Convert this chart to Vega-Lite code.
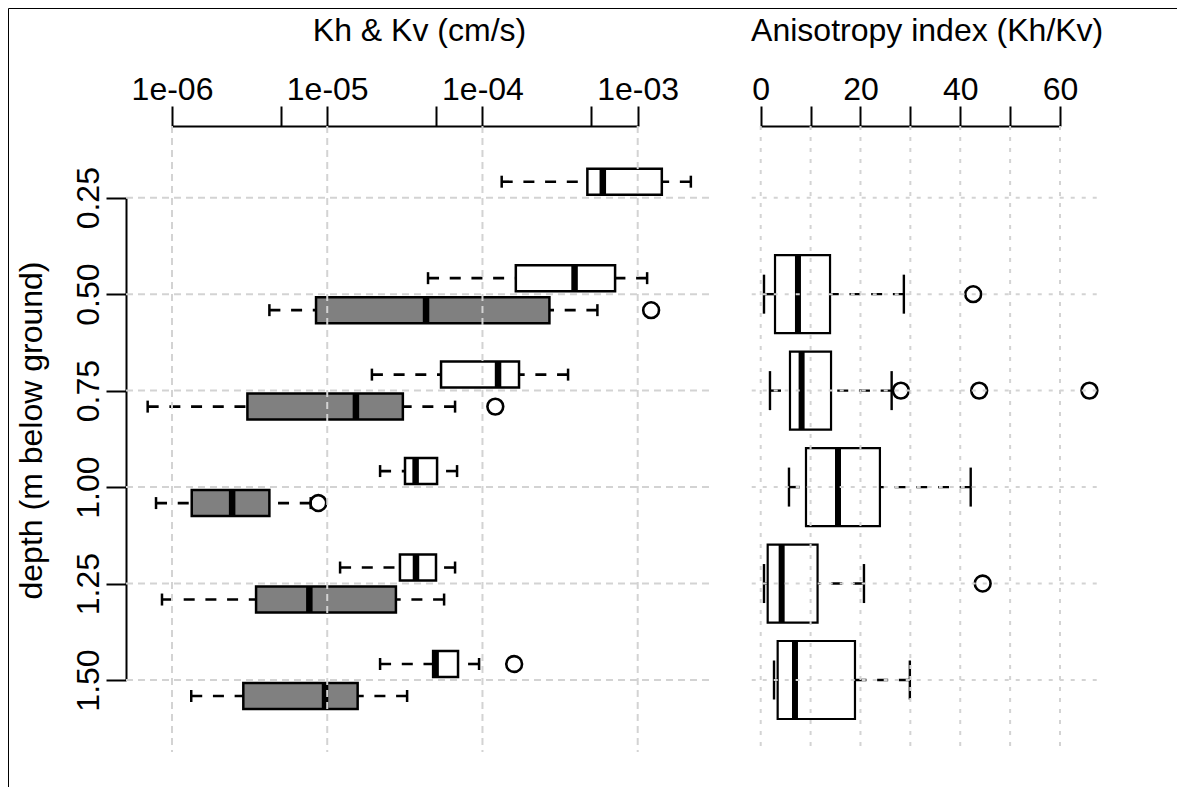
{
  "$schema": "https://vega.github.io/schema/vega-lite/v6.json",
  "width": 1170,
  "height": 780,
  "autosize": {"type": "none"},
  "padding": {"left": 8, "top": 8, "right": 0, "bottom": 0},
  "background": "white",
  "config": {"view": {"stroke": "#000000", "strokeWidth": 1}, "font": "Liberation Sans", "scale": {"continuousPadding": 0}},
  "datasets": {
    "k": [
      {"depth": 0.25, "k": "Kh", "lo": 1.33e-4, "q1": 4.74e-4, "med": 5.96e-4, "q3": 1.43e-3, "hi": 2.20e-3},
      {"depth": 0.50, "k": "Kh", "lo": 4.46e-5, "q1": 1.64e-4, "med": 3.92e-4, "q3": 7.15e-4, "hi": 1.15e-3},
      {"depth": 0.50, "k": "Kv", "lo": 4.24e-6, "q1": 8.47e-6, "med": 4.33e-5, "q3": 2.70e-4, "hi": 5.50e-4},
      {"depth": 0.75, "k": "Kh", "lo": 1.94e-5, "q1": 5.41e-5, "med": 1.26e-4, "q3": 1.72e-4, "hi": 3.56e-4},
      {"depth": 0.75, "k": "Kv", "lo": 6.97e-7, "q1": 3.06e-6, "med": 1.53e-5, "q3": 3.07e-5, "hi": 6.66e-5},
      {"depth": 1.00, "k": "Kh", "lo": 2.19e-5, "q1": 3.17e-5, "med": 3.71e-5, "q3": 5.10e-5, "hi": 6.86e-5},
      {"depth": 1.00, "k": "Kv", "lo": 7.89e-7, "q1": 1.34e-6, "med": 2.44e-6, "q3": 4.24e-6, "hi": 7.83e-6},
      {"depth": 1.25, "k": "Kh", "lo": 1.21e-5, "q1": 2.94e-5, "med": 3.73e-5, "q3": 5.02e-5, "hi": 6.66e-5},
      {"depth": 1.25, "k": "Kv", "lo": 8.62e-7, "q1": 3.48e-6, "med": 7.67e-6, "q3": 2.77e-5, "hi": 5.66e-5},
      {"depth": 1.50, "k": "Kh", "lo": 2.19e-5, "q1": 4.81e-5, "med": 4.99e-5, "q3": 6.96e-5, "hi": 9.51e-5},
      {"depth": 1.50, "k": "Kv", "lo": 1.33e-6, "q1": 2.88e-6, "med": 9.68e-6, "q3": 1.57e-5, "hi": 3.27e-5}
    ],
    "kout": [
      {"depth": 0.50, "k": "Kv", "v": 1.22e-3},
      {"depth": 0.75, "k": "Kv", "v": 1.21e-4},
      {"depth": 1.00, "k": "Kv", "v": 8.76e-6},
      {"depth": 1.50, "k": "Kh", "v": 1.60e-4}
    ],
    "ani": [
      {"depth": 0.50, "lo": 0.66, "q1": 2.87, "med": 7.47, "q3": 13.9, "hi": 28.7},
      {"depth": 0.75, "lo": 1.86, "q1": 5.87, "med": 8.2, "q3": 14.1, "hi": 26.25},
      {"depth": 1.00, "lo": 5.67, "q1": 9.08, "med": 15.5, "q3": 23.9, "hi": 42.1},
      {"depth": 1.25, "lo": 0.66, "q1": 1.4, "med": 4.2, "q3": 11.4, "hi": 20.7},
      {"depth": 1.50, "lo": 2.67, "q1": 3.4, "med": 6.87, "q3": 18.9, "hi": 29.9}
    ],
    "aniout": [
      {"depth": 0.50, "v": 42.6},
      {"depth": 0.75, "v": 28.1},
      {"depth": 0.75, "v": 43.8},
      {"depth": 0.75, "v": 65.9},
      {"depth": 1.25, "v": 44.5}
    ],
    "depths": [{"depth": 0.25}, {"depth": 0.50}, {"depth": 0.75}, {"depth": 1.00}, {"depth": 1.25}, {"depth": 1.50}],
    "kgrid": [{"kv": 1e-6}, {"kv": 1e-5}, {"kv": 1e-4}, {"kv": 1e-3}],
    "agrid": [{"av": 0}, {"av": 10}, {"av": 20}, {"av": 30}, {"av": 40}, {"av": 50}, {"av": 60}]
  },
  "layer": [
    {
      "layer": [
        {
          "data": {"name": "k"},
          "transform": [{"filter": "datum.k === 'Kh'"}],
          "layer": [
            {
              "mark": {"type": "rule", "color": "#000000", "strokeWidth": 2.6, "strokeDash": [11, 10.7], "opacity": 1, "yOffset": -16},
              "encoding": {
                "x": {"field": "lo", "type": "quantitative",
                  "scale": {"type": "log", "domain": [1e-6, 1e-3], "range": [164, 629.7], "nice": false, "padding": 0},
                  "axis": {"orient": "top", "offset": -118, "values": [1e-6, 5e-6, 1e-5, 5e-5, 1e-4, 5e-4, 1e-3],
                    "labelExpr": "abs(log(datum.value)/LN10 - round(log(datum.value)/LN10)) < 0.01 ? '1e-0' + (-round(log(datum.value)/LN10)) : ''",
                    "grid": false, "domainColor": "#000000", "domainWidth": 2, "tickColor": "#000000", "tickWidth": 2, "tickSize": 20,
                    "labelFont": "Liberation Sans", "labelFontSize": 32, "labelColor": "#000000", "labelPadding": 7,
                    "labelBaseline": "alphabetic", "labelAlign": "center", "labelOverlap": false, "labelFlush": false, "labelBound": false,
                    "title": "Kh & Kv (cm/s)", "titleFont": "Liberation Sans", "titleFontSize": 32, "titleFontWeight": "normal",
                    "titleColor": "#000000", "titleX": 411, "titleY": -86, "titleAlign": "center", "titleBaseline": "alphabetic", "titleAngle": 0}},
                "x2": {"field": "q1"},
                "y": {"field": "depth", "type": "quantitative",
                  "scale": {"domain": [0.25, 1.5], "range": [189.7, 672], "nice": false, "zero": false, "padding": 0},
                  "axis": {"orient": "left", "offset": -118, "values": [0.25, 0.5, 0.75, 1.0, 1.25, 1.5], "format": ".2f",
                    "grid": false, "domainColor": "#000000", "domainWidth": 2, "tickColor": "#000000", "tickWidth": 2, "tickSize": 20,
                    "labelFont": "Liberation Sans", "labelFontSize": 32, "labelColor": "#000000", "labelPadding": 8,
                    "labelAngle": -90, "labelAlign": "center", "labelBaseline": "alphabetic", "labelOverlap": false, "labelFlush": false, "labelBound": false,
                    "title": "depth (m below ground)", "titleFont": "Liberation Sans", "titleFontSize": 32, "titleFontWeight": "normal",
                    "titleColor": "#000000", "titleAngle": -90, "titleX": -85, "titleY": 422, "titleAlign": "center", "titleBaseline": "alphabetic"}}
              }
            },
            {
              "mark": {"type": "rule", "color": "#000000", "strokeWidth": 2.6, "strokeDash": [11, 10.7], "opacity": 1, "yOffset": -16},
              "encoding": {
                "x": {"field": "hi", "type": "quantitative", "scale": {"type": "log", "domain": [1e-6, 1e-3], "range": [164, 629.7], "nice": false, "padding": 0}},
                "x2": {"field": "q3"},
                "y": {"field": "depth", "type": "quantitative", "scale": {"domain": [0.25, 1.5], "range": [189.7, 672], "nice": false, "zero": false, "padding": 0}}
              }
            },
            {
              "mark": {"type": "tick", "orient": "vertical", "color": "#000000", "size": 12, "thickness": 2.5, "opacity": 1, "yOffset": -16},
              "encoding": {
                "x": {"field": "lo", "type": "quantitative", "scale": {"type": "log", "domain": [1e-6, 1e-3], "range": [164, 629.7], "nice": false, "padding": 0}},
                "y": {"field": "depth", "type": "quantitative", "scale": {"domain": [0.25, 1.5], "range": [189.7, 672], "nice": false, "zero": false, "padding": 0}}
              }
            },
            {
              "mark": {"type": "tick", "orient": "vertical", "color": "#000000", "size": 12, "thickness": 2.5, "opacity": 1, "yOffset": -16},
              "encoding": {
                "x": {"field": "hi", "type": "quantitative", "scale": {"type": "log", "domain": [1e-6, 1e-3], "range": [164, 629.7], "nice": false, "padding": 0}},
                "y": {"field": "depth", "type": "quantitative", "scale": {"domain": [0.25, 1.5], "range": [189.7, 672], "nice": false, "zero": false, "padding": 0}}
              }
            },
            {
              "mark": {"type": "bar", "orient": "horizontal", "size": 26, "fill": "#ffffff", "stroke": "#000000", "strokeWidth": 2.5, "opacity": 1, "yOffset": -16},
              "encoding": {
                "x": {"field": "q1", "type": "quantitative", "scale": {"type": "log", "domain": [1e-6, 1e-3], "range": [164, 629.7], "nice": false, "padding": 0}},
                "x2": {"field": "q3"},
                "y": {"field": "depth", "type": "quantitative", "scale": {"domain": [0.25, 1.5], "range": [189.7, 672], "nice": false, "zero": false, "padding": 0}}
              }
            },
            {
              "mark": {"type": "tick", "orient": "vertical", "color": "#000000", "size": 26, "thickness": 6.5, "opacity": 1, "yOffset": -16},
              "encoding": {
                "x": {"field": "med", "type": "quantitative", "scale": {"type": "log", "domain": [1e-6, 1e-3], "range": [164, 629.7], "nice": false, "padding": 0}},
                "y": {"field": "depth", "type": "quantitative", "scale": {"domain": [0.25, 1.5], "range": [189.7, 672], "nice": false, "zero": false, "padding": 0}}
              }
            }
          ]
        },
        {
          "data": {"name": "k"},
          "transform": [{"filter": "datum.k === 'Kv'"}],
          "layer": [
            {
              "mark": {"type": "rule", "color": "#000000", "strokeWidth": 2.6, "strokeDash": [11, 10.7], "opacity": 1, "yOffset": 16},
              "encoding": {
                "x": {"field": "lo", "type": "quantitative", "scale": {"type": "log", "domain": [1e-6, 1e-3], "range": [164, 629.7], "nice": false, "padding": 0}},
                "x2": {"field": "q1"},
                "y": {"field": "depth", "type": "quantitative", "scale": {"domain": [0.25, 1.5], "range": [189.7, 672], "nice": false, "zero": false, "padding": 0}}
              }
            },
            {
              "mark": {"type": "rule", "color": "#000000", "strokeWidth": 2.6, "strokeDash": [11, 10.7], "opacity": 1, "yOffset": 16},
              "encoding": {
                "x": {"field": "hi", "type": "quantitative", "scale": {"type": "log", "domain": [1e-6, 1e-3], "range": [164, 629.7], "nice": false, "padding": 0}},
                "x2": {"field": "q3"},
                "y": {"field": "depth", "type": "quantitative", "scale": {"domain": [0.25, 1.5], "range": [189.7, 672], "nice": false, "zero": false, "padding": 0}}
              }
            },
            {
              "mark": {"type": "tick", "orient": "vertical", "color": "#000000", "size": 12, "thickness": 2.5, "opacity": 1, "yOffset": 16},
              "encoding": {
                "x": {"field": "lo", "type": "quantitative", "scale": {"type": "log", "domain": [1e-6, 1e-3], "range": [164, 629.7], "nice": false, "padding": 0}},
                "y": {"field": "depth", "type": "quantitative", "scale": {"domain": [0.25, 1.5], "range": [189.7, 672], "nice": false, "zero": false, "padding": 0}}
              }
            },
            {
              "mark": {"type": "tick", "orient": "vertical", "color": "#000000", "size": 12, "thickness": 2.5, "opacity": 1, "yOffset": 16},
              "encoding": {
                "x": {"field": "hi", "type": "quantitative", "scale": {"type": "log", "domain": [1e-6, 1e-3], "range": [164, 629.7], "nice": false, "padding": 0}},
                "y": {"field": "depth", "type": "quantitative", "scale": {"domain": [0.25, 1.5], "range": [189.7, 672], "nice": false, "zero": false, "padding": 0}}
              }
            },
            {
              "mark": {"type": "bar", "orient": "horizontal", "size": 26, "fill": "#808080", "stroke": "#000000", "strokeWidth": 2.5, "opacity": 1, "yOffset": 16},
              "encoding": {
                "x": {"field": "q1", "type": "quantitative", "scale": {"type": "log", "domain": [1e-6, 1e-3], "range": [164, 629.7], "nice": false, "padding": 0}},
                "x2": {"field": "q3"},
                "y": {"field": "depth", "type": "quantitative", "scale": {"domain": [0.25, 1.5], "range": [189.7, 672], "nice": false, "zero": false, "padding": 0}}
              }
            },
            {
              "mark": {"type": "tick", "orient": "vertical", "color": "#000000", "size": 26, "thickness": 6.5, "opacity": 1, "yOffset": 16},
              "encoding": {
                "x": {"field": "med", "type": "quantitative", "scale": {"type": "log", "domain": [1e-6, 1e-3], "range": [164, 629.7], "nice": false, "padding": 0}},
                "y": {"field": "depth", "type": "quantitative", "scale": {"domain": [0.25, 1.5], "range": [189.7, 672], "nice": false, "zero": false, "padding": 0}}
              }
            }
          ]
        },
        {
          "data": {"name": "kout"},
          "transform": [{"filter": "datum.k === 'Kh'"}],
          "mark": {"type": "point", "shape": "circle", "filled": false, "stroke": "#000000", "strokeWidth": 2.6, "size": 250, "opacity": 1, "yOffset": -16},
          "encoding": {
            "x": {"field": "v", "type": "quantitative", "scale": {"type": "log", "domain": [1e-6, 1e-3], "range": [164, 629.7], "nice": false, "padding": 0}},
            "y": {"field": "depth", "type": "quantitative", "scale": {"domain": [0.25, 1.5], "range": [189.7, 672], "nice": false, "zero": false, "padding": 0}}
          }
        },
        {
          "data": {"name": "kout"},
          "transform": [{"filter": "datum.k === 'Kv'"}],
          "mark": {"type": "point", "shape": "circle", "filled": false, "stroke": "#000000", "strokeWidth": 2.6, "size": 250, "opacity": 1, "yOffset": 16},
          "encoding": {
            "x": {"field": "v", "type": "quantitative", "scale": {"type": "log", "domain": [1e-6, 1e-3], "range": [164, 629.7], "nice": false, "padding": 0}},
            "y": {"field": "depth", "type": "quantitative", "scale": {"domain": [0.25, 1.5], "range": [189.7, 672], "nice": false, "zero": false, "padding": 0}}
          }
        },
        {
          "data": {"name": "depths"},
          "mark": {"type": "rule", "color": "#d3d3d3", "strokeWidth": 2, "strokeDash": [7, 5], "opacity": 1},
          "encoding": {
            "y": {"field": "depth", "type": "quantitative", "scale": {"domain": [0.25, 1.5], "range": [189.7, 672], "nice": false, "zero": false, "padding": 0}},
            "x": {"datum": 5.055e-7, "type": "quantitative", "scale": {"type": "log", "domain": [1e-6, 1e-3], "range": [164, 629.7], "nice": false, "padding": 0}},
            "x2": {"datum": 3.011e-3}
          }
        },
        {
          "data": {"name": "kgrid"},
          "mark": {"type": "rule", "color": "#d3d3d3", "strokeWidth": 2, "strokeDash": [7, 5], "opacity": 1},
          "encoding": {
            "x": {"field": "kv", "type": "quantitative", "scale": {"type": "log", "domain": [1e-6, 1e-3], "range": [164, 629.7], "nice": false, "padding": 0}},
            "y": {"datum": 0.0642, "type": "quantitative", "scale": {"domain": [0.25, 1.5], "range": [189.7, 672], "nice": false, "zero": false, "padding": 0}},
            "y2": {"datum": 1.6866}
          }
        }
      ]
    },
    {
      "layer": [
        {
          "data": {"name": "ani"},
          "mark": {"type": "rule", "color": "#000000", "strokeWidth": 2.4, "strokeDash": [11, 10.7], "opacity": 1},
          "encoding": {
            "x": {"field": "lo", "type": "quantitative",
              "scale": {"type": "linear", "domain": [0, 60], "range": [752.7, 1052], "nice": false, "zero": false, "padding": 0},
              "axis": {"orient": "top", "offset": -118, "values": [0, 10, 20, 30, 40, 50, 60],
                "labelExpr": "datum.value % 20 === 0 ? datum.label : ''",
                "grid": false, "domainColor": "#000000", "domainWidth": 2, "tickColor": "#000000", "tickWidth": 2, "tickSize": 20,
                "labelFont": "Liberation Sans", "labelFontSize": 32, "labelColor": "#000000", "labelPadding": 7,
                "labelBaseline": "alphabetic", "labelAlign": "center", "labelOverlap": false, "labelFlush": false, "labelBound": false,
                "title": "Anisotropy index (Kh/Kv)", "titleFont": "Liberation Sans", "titleFontSize": 32, "titleFontWeight": "normal",
                "titleColor": "#000000", "titleX": 918.7, "titleY": -86, "titleAlign": "center", "titleBaseline": "alphabetic", "titleAngle": 0}},
            "x2": {"field": "q1"},
            "y": {"field": "depth", "type": "quantitative", "scale": {"domain": [0.25, 1.5], "range": [189.7, 672], "nice": false, "zero": false, "padding": 0}}
          }
        },
        {
          "data": {"name": "ani"},
          "mark": {"type": "rule", "color": "#000000", "strokeWidth": 2.4, "strokeDash": [11, 10.7], "opacity": 1},
          "encoding": {
            "x": {"field": "hi", "type": "quantitative", "scale": {"type": "linear", "domain": [0, 60], "range": [752.7, 1052], "nice": false, "zero": false, "padding": 0}},
            "x2": {"field": "q3"},
            "y": {"field": "depth", "type": "quantitative", "scale": {"domain": [0.25, 1.5], "range": [189.7, 672], "nice": false, "zero": false, "padding": 0}}
          }
        },
        {
          "data": {"name": "ani"},
          "mark": {"type": "tick", "orient": "vertical", "color": "#000000", "size": 39, "thickness": 2.4, "opacity": 1},
          "encoding": {
            "x": {"field": "lo", "type": "quantitative", "scale": {"type": "linear", "domain": [0, 60], "range": [752.7, 1052], "nice": false, "zero": false, "padding": 0}},
            "y": {"field": "depth", "type": "quantitative", "scale": {"domain": [0.25, 1.5], "range": [189.7, 672], "nice": false, "zero": false, "padding": 0}}
          }
        },
        {
          "data": {"name": "ani"},
          "mark": {"type": "tick", "orient": "vertical", "color": "#000000", "size": 39, "thickness": 2.4, "opacity": 1},
          "encoding": {
            "x": {"field": "hi", "type": "quantitative", "scale": {"type": "linear", "domain": [0, 60], "range": [752.7, 1052], "nice": false, "zero": false, "padding": 0}},
            "y": {"field": "depth", "type": "quantitative", "scale": {"domain": [0.25, 1.5], "range": [189.7, 672], "nice": false, "zero": false, "padding": 0}}
          }
        },
        {
          "data": {"name": "ani"},
          "mark": {"type": "bar", "orient": "horizontal", "size": 78, "fill": "#ffffff", "stroke": "#000000", "strokeWidth": 2.2, "opacity": 1},
          "encoding": {
            "x": {"field": "q1", "type": "quantitative", "scale": {"type": "linear", "domain": [0, 60], "range": [752.7, 1052], "nice": false, "zero": false, "padding": 0}},
            "x2": {"field": "q3"},
            "y": {"field": "depth", "type": "quantitative", "scale": {"domain": [0.25, 1.5], "range": [189.7, 672], "nice": false, "zero": false, "padding": 0}}
          }
        },
        {
          "data": {"name": "ani"},
          "mark": {"type": "tick", "orient": "vertical", "color": "#000000", "size": 78, "thickness": 6, "opacity": 1},
          "encoding": {
            "x": {"field": "med", "type": "quantitative", "scale": {"type": "linear", "domain": [0, 60], "range": [752.7, 1052], "nice": false, "zero": false, "padding": 0}},
            "y": {"field": "depth", "type": "quantitative", "scale": {"domain": [0.25, 1.5], "range": [189.7, 672], "nice": false, "zero": false, "padding": 0}}
          }
        },
        {
          "data": {"name": "aniout"},
          "mark": {"type": "point", "shape": "circle", "filled": false, "stroke": "#000000", "strokeWidth": 2.6, "size": 250, "opacity": 1},
          "encoding": {
            "x": {"field": "v", "type": "quantitative", "scale": {"type": "linear", "domain": [0, 60], "range": [752.7, 1052], "nice": false, "zero": false, "padding": 0}},
            "y": {"field": "depth", "type": "quantitative", "scale": {"domain": [0.25, 1.5], "range": [189.7, 672], "nice": false, "zero": false, "padding": 0}}
          }
        },
        {
          "data": {"name": "depths"},
          "mark": {"type": "rule", "color": "#d3d3d3", "strokeWidth": 2, "strokeDash": [4, 7], "opacity": 1},
          "encoding": {
            "y": {"field": "depth", "type": "quantitative", "scale": {"domain": [0.25, 1.5], "range": [189.7, 672], "nice": false, "zero": false, "padding": 0}},
            "x": {"datum": -1.8, "type": "quantitative", "scale": {"type": "linear", "domain": [0, 60], "range": [752.7, 1052], "nice": false, "zero": false, "padding": 0}},
            "x2": {"datum": 68.36}
          }
        },
        {
          "data": {"name": "agrid"},
          "mark": {"type": "rule", "color": "#d3d3d3", "strokeWidth": 2, "strokeDash": [4, 7], "opacity": 1},
          "encoding": {
            "x": {"field": "av", "type": "quantitative", "scale": {"type": "linear", "domain": [0, 60], "range": [752.7, 1052], "nice": false, "zero": false, "padding": 0}},
            "y": {"datum": 0.0642, "type": "quantitative", "scale": {"domain": [0.25, 1.5], "range": [189.7, 672], "nice": false, "zero": false, "padding": 0}},
            "y2": {"datum": 1.6866}
          }
        }
      ]
    }
  ],
  "resolve": {"scale": {"x": "independent"}, "axis": {"x": "independent"}}
}
